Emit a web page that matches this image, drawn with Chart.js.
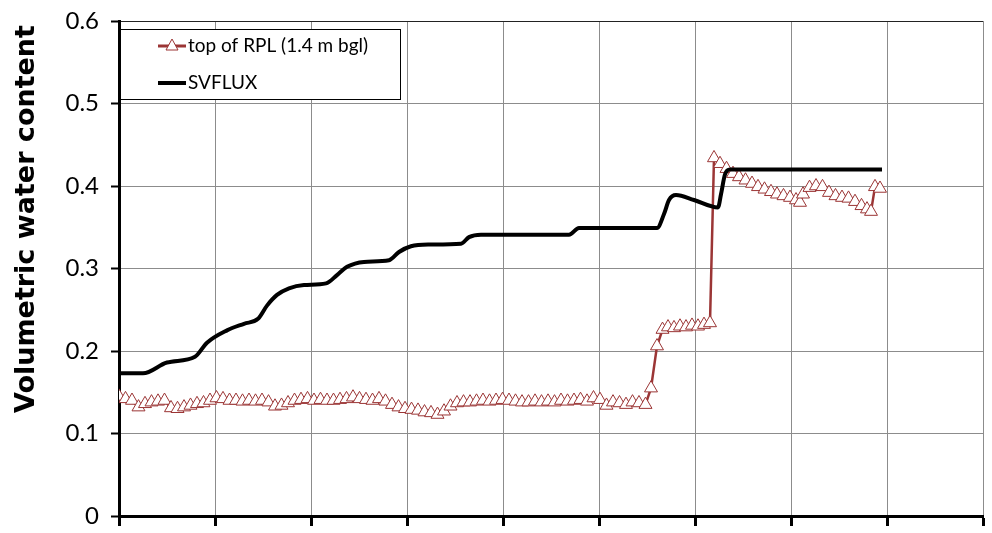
<!DOCTYPE html>
<html>
<head>
<meta charset="utf-8">
<script src="https://cdn.jsdelivr.net/npm/chart.js@4.4.0/dist/chart.umd.min.js"></script>
<style>
  html, body { margin: 0; padding: 0; background: #fff; }
</style>
</head>
<body>
<canvas id="vwcChart" width="992" height="533"></canvas>
<script>
// x is in plain units along the time axis, one vertical gridline every 96
var rplLabel = 'top of RPL (1.4 m bgl)';
var svfluxLabel = 'SVFLUX';
var yTitle = 'Volumetric water content';
var yTickLabels = ['0', '0.1', '0.2', '0.3', '0.4', '0.5', '0.6'];

var rplX = [
  0, 6.5, 13, 19.5, 26, 32.5, 39, 45.5, 52, 58.5,
  65, 71.5, 78, 84.5, 91, 97.5, 104, 110.5, 117, 123.5,
  130, 136.5, 143, 149.5, 156, 162.5, 169, 175.5, 182, 188.5,
  195, 201.5, 208, 214.5, 221, 227.5, 234, 240.5, 247, 253.5,
  260, 266.5, 273, 279.5, 286, 292.5, 299, 305.5, 312, 318.5,
  325, 331.5, 338, 344.5, 351, 357.5, 364, 370.5, 377, 383.5,
  390, 396.5, 403, 409.5, 416, 422.5, 429, 435.5, 442, 448.5,
  455, 461.5, 468, 474.5, 481, 487.5, 494, 500.5, 507, 513.5,
  520, 526.5,
  532, 538, 543.5, 549, 555, 561, 567, 573, 579, 585, 591,
  595, 601, 607.5, 614, 620, 626.5, 633, 639, 645.5, 652,
  658, 664.5, 671, 677, 681,
  684, 690.5, 697, 703.5, 710, 716.5, 723, 729.5, 736, 742.5,
  748, 752, 756, 761
];
var rplY = [
  0.145, 0.142, 0.140, 0.132, 0.136, 0.138, 0.139, 0.140, 0.131, 0.130,
  0.132, 0.134, 0.136, 0.137, 0.140, 0.143, 0.142, 0.140, 0.140, 0.139,
  0.140, 0.139, 0.140, 0.138, 0.133, 0.134, 0.137, 0.140, 0.141, 0.142,
  0.140, 0.141, 0.140, 0.140, 0.141, 0.142, 0.144, 0.142, 0.141, 0.140,
  0.142, 0.139, 0.135, 0.132, 0.130, 0.129, 0.128, 0.126, 0.125, 0.123,
  0.127, 0.133, 0.137, 0.138, 0.138, 0.139, 0.140, 0.139, 0.140, 0.141,
  0.140, 0.139, 0.138, 0.138, 0.139, 0.138, 0.139, 0.138, 0.140, 0.139,
  0.140, 0.141, 0.139, 0.143, 0.141, 0.134, 0.138, 0.137, 0.135, 0.138,
  0.137, 0.135,
  0.155, 0.206, 0.226, 0.229, 0.228, 0.230, 0.229, 0.231, 0.230, 0.232, 0.234,
  0.434, 0.427, 0.421, 0.415, 0.411, 0.407, 0.403, 0.399, 0.396, 0.393,
  0.390, 0.388, 0.386, 0.383, 0.380,
  0.390, 0.398, 0.400, 0.399, 0.392, 0.388, 0.386, 0.385, 0.381, 0.376,
  0.372, 0.369, 0.399, 0.397
];

var svfluxX = [
  0, 24, 48, 76, 88, 108, 125, 139, 148, 158,
  170, 185, 207, 218, 228, 245, 270, 280, 292, 310,
  342, 350, 362, 450, 460, 538, 545, 550, 557, 575,
  599, 602, 606, 611, 763
];
var svfluxY = [
  0.173, 0.173, 0.186, 0.193, 0.210, 0.225, 0.233, 0.239, 0.255, 0.268,
  0.276, 0.280, 0.282, 0.292, 0.302, 0.308, 0.310, 0.320, 0.327, 0.329,
  0.330, 0.338, 0.341, 0.341, 0.349, 0.349, 0.366, 0.383, 0.389, 0.383,
  0.374, 0.390, 0.414, 0.420, 0.420
];

var rplColor = '#9b3535';
var gridGrey = '#8c8c8c';

function toPoints(xs, ys) {
  return xs.map(function (x, i) { return { x: x, y: ys[i] }; });
}

// y title and the boxed legend drawn over the plot
var titleAndLegend = {
  id: 'titleAndLegend',
  afterDraw: function (chart) {
    var ctx = chart.ctx;
    ctx.save();
    ctx.translate(27, 219);
    ctx.rotate(-Math.PI / 2);
    ctx.font = 'bold 27px "DejaVu Sans"';
    ctx.fillStyle = '#000';
    ctx.textAlign = 'center';
    ctx.textBaseline = 'middle';
    ctx.fillText(yTitle, 0, 0);
    ctx.restore();

    ctx.save();
    ctx.fillStyle = '#fff';
    ctx.fillRect(120.5, 29.5, 280, 70);
    ctx.strokeStyle = '#000';
    ctx.lineWidth = 1;
    ctx.strokeRect(120.5, 29.5, 280, 70);

    // RPL entry
    ctx.strokeStyle = rplColor;
    ctx.lineWidth = 3;
    ctx.beginPath();
    ctx.moveTo(158, 46);
    ctx.lineTo(186, 46);
    ctx.stroke();
    ctx.beginPath();
    ctx.moveTo(172, 39);
    ctx.lineTo(178, 50);
    ctx.lineTo(166, 50);
    ctx.closePath();
    ctx.fillStyle = '#fff';
    ctx.fill();
    ctx.lineWidth = 1;
    ctx.stroke();

    // SVFLUX entry
    ctx.strokeStyle = '#000';
    ctx.lineWidth = 4;
    ctx.beginPath();
    ctx.moveTo(158, 83);
    ctx.lineTo(186, 83);
    ctx.stroke();

    ctx.fillStyle = '#000';
    ctx.font = '19px Lato';
    ctx.textBaseline = 'middle';
    ctx.textAlign = 'left';
    ctx.fillText(rplLabel, 188, 46);
    ctx.fillText(svfluxLabel, 188, 83);
    ctx.restore();
  }
};

var ctx = document.getElementById('vwcChart').getContext('2d');
var vwcChart = new Chart(ctx, {
  type: 'line',
  data: {
    datasets: [{
      label: svfluxLabel,
      data: toPoints(svfluxX, svfluxY),
      borderColor: '#000',
      borderWidth: 4,
      pointRadius: 0,
      cubicInterpolationMode: 'monotone',
      borderJoinStyle: 'round',
      order: 0
    }, {
      label: rplLabel,
      data: toPoints(rplX, rplY),
      borderColor: rplColor,
      borderWidth: 2.5,
      tension: 0,
      pointStyle: 'triangle',
      pointRadius: 7.5,
      pointBorderWidth: 1,
      pointBorderColor: rplColor,
      pointBackgroundColor: '#fff',
      order: 1
    }]
  },
  options: {
    responsive: false,
    animation: false,
    layout: {
      autoPadding: false,
      padding: { top: 21, right: 9, left: 0, bottom: 0 }
    },
    scales: {
      x: {
        type: 'linear',
        min: 0,
        max: 864,
        afterFit: function (scale) { scale.height = 17; },
        ticks: { display: false, stepSize: 96 },
        grid: {
          color: gridGrey,
          lineWidth: 1,
          drawTicks: true,
          tickLength: 10,
          tickColor: '#000',
          tickWidth: 3
        },
        border: { display: true, color: '#000', width: 3 }
      },
      y: {
        min: 0,
        max: 0.6,
        afterFit: function (scale) {
          scale.width = 119;
          scale.paddingTop = 0;
          scale.paddingBottom = 0;
        },
        ticks: {
          stepSize: 0.1,
          padding: 12,
          color: '#000',
          font: { family: 'Lato', size: 24 },
          callback: function (value) { return yTickLabels[Math.round(value * 10)]; }
        },
        grid: {
          color: function (c) {
            return c.tick && Math.abs(c.tick.value - 0.6) < 1e-9 ? '#222' : gridGrey;
          },
          lineWidth: 1,
          drawTicks: true,
          tickLength: 8,
          tickColor: '#000',
          tickWidth: 2
        },
        border: { display: true, color: '#000', width: 3 }
      }
    },
    plugins: {
      legend: { display: false },
      tooltip: { enabled: false }
    }
  },
  plugins: [titleAndLegend]
});
</script>
</body>
</html>
